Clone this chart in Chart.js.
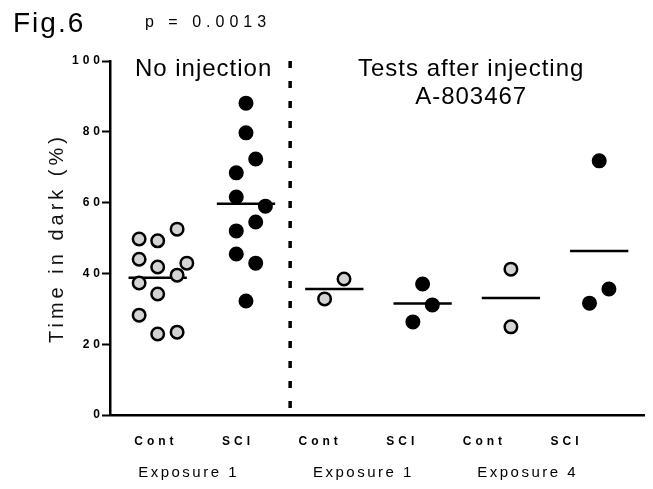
<!DOCTYPE html>
<html>
<head>
<meta charset="utf-8">
<script src="https://cdn.jsdelivr.net/npm/chart.js@4"></script>
<style>
  body { margin: 0; background: #fff; }
  canvas { display: block; }
</style>
</head>
<body>
<canvas id="figChart" width="653" height="489"></canvas>
<script>
// group labels under the x axis
const categories = ["Cont", "SCI", "Cont", "SCI", "Cont", "SCI"];
const exposures = ["Exposure 1", "Exposure 1", "Exposure 4"];
const yTicks = [0, 20, 40, 60, 80, 100];
const sectionTitles = [["No injection"], ["Tests after injecting", "A-803467"]];

// Time in dark (%) for every animal, per group
const cont1 = [49.7, 49.2, 52.5, 44.0, 41.8, 42.9, 39.5, 37.3, 34.2, 28.2, 22.9, 23.4];
const sci1 = [88.1, 79.7, 72.3, 68.4, 61.6, 59.0, 54.5, 52.0, 45.5, 42.9, 32.2];
const cont2 = [38.4, 32.8];
const sci2 = [37.0, 31.1, 26.3];
const cont3 = [41.2, 24.9];
const sci3 = [71.8, 35.6, 31.6];

// sideways spread of the dots inside a column (in column units)
const cont1Spread = [-0.21, 0, 0.22, -0.21, 0, 0.33, 0.22, -0.21, 0, -0.21, 0, 0.22];
const sci1Spread = [0, 0, 0.11, -0.11, -0.11, 0.22, 0.11, -0.11, -0.11, 0.11, 0];
const cont2Spread = [0.11, -0.11];
const sci2Spread = [0, 0.11, -0.11];
const cont3Spread = [0, 0];
const sci3Spread = [0, 0.11, -0.11];

const pValue = "p = 0.0013";
const figLabel = "Fig.6";

/* build datasets */
const FONT = '"Liberation Sans", Arial, sans-serif';
const groupValues = [cont1, sci1, cont2, sci2, cont3, sci3];
const groupSpread = [cont1Spread, sci1Spread, cont2Spread, sci2Spread, cont3Spread, sci3Spread];
const meanHalf = 0.33;
const dividerAt = 1.5;

const datasets = [];
groupValues.forEach((values, g) => {
    const isSCI = categories[g] === "SCI";
    datasets.push({
        type: "scatter",
        data: values.map((v, i) => ({ x: g + groupSpread[g][i], y: v })),
        backgroundColor: isSCI ? "#000" : "#d3d3d3",
        borderColor: "#000",
        borderWidth: 2.5,
        pointRadius: 6.25,
        order: 0,
    });
    const mean = values.reduce((a, b) => a + b, 0) / values.length;
    datasets.push({
        type: "line",
        data: [{ x: g - meanHalf, y: mean }, { x: g + meanHalf, y: mean }],
        borderColor: "#000",
        borderWidth: 2.5,
        pointRadius: 0,
        order: 2,
    });
});
// dashed separator between the two experiments
datasets.push({
    type: "line",
    data: [{ x: dividerAt, y: 100 }, { x: dividerAt, y: 0 }],
    borderColor: "#000",
    borderWidth: 3.5,
    borderDash: [7, 13],
    pointRadius: 0,
    order: 3,
});

/* plugins */
// GraphPad style wide letter spacing on axis text
const spacingPlugin = {
    id: "spacing",
    beforeLayout(chart) { chart.ctx.letterSpacing = "4px"; },
    beforeDraw(chart) { chart.ctx.letterSpacing = "4px"; },
};

const textPlugin = {
    id: "figText",
    afterDraw(chart) {
        const { ctx } = chart;
        const x = chart.scales.x;
        ctx.save();
        ctx.fillStyle = "#000";
        ctx.textBaseline = "alphabetic";

        ctx.textAlign = "left";
        ctx.letterSpacing = "2px";
        ctx.font = "28px " + FONT;
        ctx.fillText(figLabel, 13, 32);

        ctx.letterSpacing = "5px";
        ctx.font = "16px " + FONT;
        ctx.fillText(pValue, 145, 27);

        ctx.textAlign = "center";
        ctx.letterSpacing = "1px";
        ctx.font = "24px " + FONT;
        const titleAt = [0.52, 3.55];
        sectionTitles.forEach((lines, i) => {
            lines.forEach((line, j) => {
                ctx.fillText(line, x.getPixelForValue(titleAt[i]), 76 + j * 28);
            });
        });

        ctx.letterSpacing = "2.5px";
        ctx.font = "15px " + FONT;
        const expoAt = [0.35, 2.33, 4.19];
        exposures.forEach((t, i) => {
            ctx.fillText(t, x.getPixelForValue(expoAt[i]), 477);
        });
        ctx.restore();
    },
};

/* chart */
const labelStep = 0.93;
const labelShift = -0.02;

const figChart = new Chart(document.getElementById("figChart").getContext("2d"), {
    type: "scatter",
    data: { datasets },
    options: {
        responsive: false,
        animation: false,
        devicePixelRatio: 1,
        layout: { padding: { top: 61, right: 1, left: 0, bottom: 0 } },
        plugins: { legend: { display: false }, tooltip: { enabled: false } },
        scales: {
            x: {
                type: "linear",
                min: -0.54,
                max: 5.51,
                grid: { display: false, drawTicks: false },
                border: { display: true, color: "#000", width: 2.5 },
                afterBuildTicks: (scale) => {
                    scale.ticks = categories.map((c, i) => ({ value: i * labelStep + labelShift }));
                },
                afterFit: (scale) => { scale.height = 74; },
                ticks: {
                    autoSkip: false,
                    maxRotation: 0,
                    minRotation: 0,
                    padding: 19,
                    color: "#000",
                    font: { family: FONT, size: 12, weight: "bold" },
                    callback: (value, index) => categories[index],
                },
            },
            y: {
                min: 0,
                max: 100,
                grid: {
                    display: true,
                    drawOnChartArea: false,
                    drawTicks: true,
                    tickLength: 8,
                    tickWidth: 2,
                    tickColor: "#000",
                },
                border: { display: true, color: "#000", width: 2.5 },
                afterBuildTicks: (scale) => {
                    scale.ticks = yTicks.map((v) => ({ value: v }));
                },
                afterFit: (scale) => { scale.width = 110; },
                ticks: {
                    padding: -2,
                    color: "#000",
                    font: { family: FONT, size: 12, weight: "bold" },
                },
                title: {
                    display: true,
                    text: "Time in dark (%)",
                    color: "#111",
                    padding: { top: 45, bottom: 0 },
                    font: { family: FONT, size: 20, weight: "normal" },
                },
            },
        },
    },
    plugins: [spacingPlugin, textPlugin],
});
</script>
</body>
</html>
